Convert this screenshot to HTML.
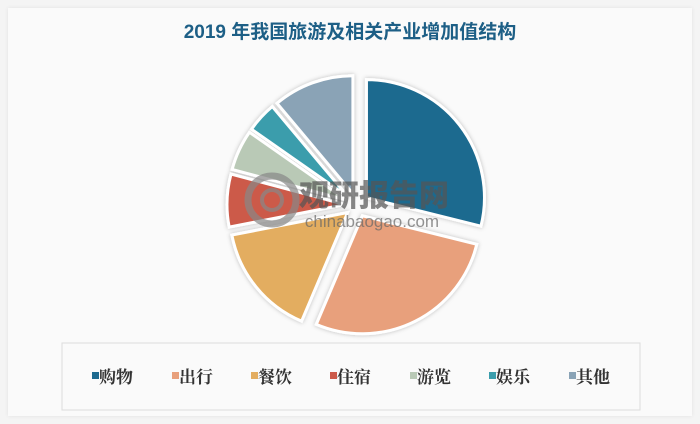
<!DOCTYPE html>
<html><head><meta charset="utf-8"><style>
body{margin:0;background:#f4f4f4;}
.card{position:absolute;left:8px;top:8px;width:684px;height:408px;background:#fafafa;box-shadow:0 0 4px rgba(0,0,0,0.08);}
</style></head><body>
<div class="card"></div>
<svg width="700" height="424" style="position:absolute;left:0;top:0" xmlns="http://www.w3.org/2000/svg">
<defs><filter id="sh" x="-20%" y="-20%" width="140%" height="140%"><feDropShadow dx="0" dy="0" stdDeviation="2" flood-color="#000" flood-opacity="0.25"/></filter></defs>
<text x="350" y="38" text-anchor="middle" font-family="Liberation Sans, Noto Sans CJK SC, sans-serif" font-weight="bold" font-size="19" fill="#1d5f86">2019 年我国旅游及相关产业增加值结构</text>
<g id="pie" stroke="#fff" stroke-width="3" filter="url(#sh)"></g>
<g opacity="0.7">
<circle cx="272" cy="200" r="24" fill="none" stroke="#888" stroke-width="7"/>
<circle cx="272" cy="200" r="10" fill="none" stroke="#888" stroke-width="4"/>
<text x="374" y="206" text-anchor="middle" font-family="Noto Sans CJK SC, sans-serif" font-weight="900" font-size="30" fill="#555">观研报告网</text>
<text x="372" y="227" text-anchor="middle" font-family="Liberation Sans, sans-serif" font-size="17" fill="#666">chinabaogao.com</text>
</g>
<rect x="62" y="343" width="578" height="67" fill="#fafafa" stroke="#dcdcdc" stroke-width="1"/>
<g font-family="Liberation Serif, Noto Serif CJK SC, serif" font-size="17" font-weight="bold" fill="#333">
<rect x="92" y="372" width="7" height="7" fill="#1d6a8f"/><text x="99" y="383">购物</text>
<rect x="172" y="372" width="7" height="7" fill="#e8a07c"/><text x="179" y="383">出行</text>
<rect x="251" y="372" width="7" height="7" fill="#e3ad60"/><text x="258" y="383">餐饮</text>
<rect x="330" y="372" width="7" height="7" fill="#cc5a4a"/><text x="337" y="383">住宿</text>
<rect x="410" y="372" width="7" height="7" fill="#b9c9b6"/><text x="417" y="383">游览</text>
<rect x="489" y="372" width="7" height="7" fill="#3a9dac"/><text x="496" y="383">娱乐</text>
<rect x="569" y="372" width="7" height="7" fill="#8aa3b6"/><text x="576" y="383">其他</text>
</g>
</svg>
<script>
var d=[[0,104,"#1d6a8f"],[104,203,"#e8a07c"],[203,259,"#e3ad60"],[259,285,"#cc5a4a"],[285,305,"#b9c9b6"],[305,320,"#3a9dac"],[320,360,"#8aa3b6"]];
var cx=357,cy=205,r=118,off=12,g=document.getElementById("pie"),s="";
function p(a,R,ox,oy){var t=(a-90)*Math.PI/180;return [ox+R*Math.cos(t),oy+R*Math.sin(t)];}
d.forEach(function(e){var m=(e[0]+e[1])/2,o=p(m,off,cx,cy),a=p(e[0],r,o[0],o[1]),b=p(e[1],r,o[0],o[1]);
s+='<path d="M'+o[0]+','+o[1]+'L'+a[0]+','+a[1]+'A'+r+','+r+' 0 '+((e[1]-e[0])>180?1:0)+' 1 '+b[0]+','+b[1]+'Z" fill="'+e[2]+'"/>';});
g.innerHTML=s;
</script>
</body></html>
